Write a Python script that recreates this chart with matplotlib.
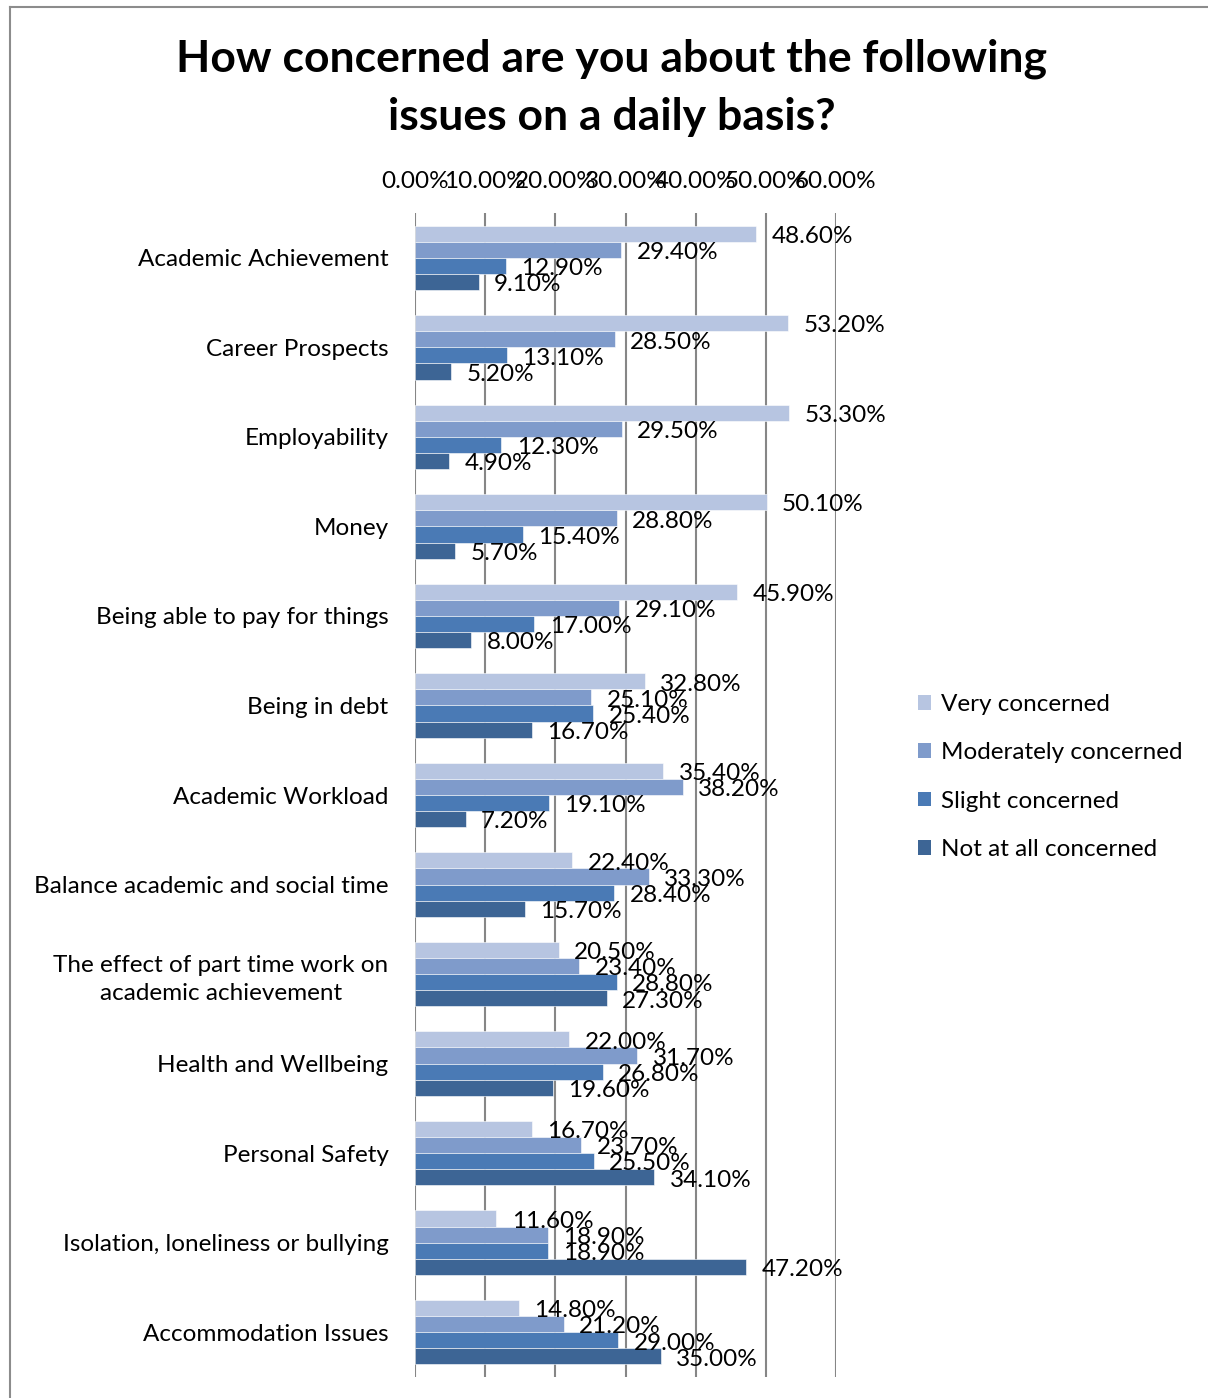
import matplotlib
matplotlib.use('Agg')
import numpy as np
import matplotlib.pyplot as plt
from matplotlib.patches import Patch
from matplotlib.lines import Line2D

plt.rcParams['font.family'] = ['Lato', 'DejaVu Sans']

# survey categories, top to bottom
categories = ['Academic Achievement', 'Career Prospects', 'Employability', 'Money',
              'Being able to pay for things', 'Being in debt', 'Academic Workload',
              'Balance academic and social time',
              'The effect of part time work on\nacademic achievement',
              'Health and Wellbeing', 'Personal Safety',
              'Isolation, loneliness or bullying', 'Accommodation Issues']

# percentages per response
very = [48.6, 53.2, 53.3, 50.1, 45.9, 32.8, 35.4, 22.4, 20.5, 22.0, 16.7, 11.6, 14.8]
moderately = [29.4, 28.5, 29.5, 28.8, 29.1, 25.1, 38.2, 33.3, 23.4, 31.7, 23.7, 18.9, 21.2]
slight = [12.9, 13.1, 12.3, 15.4, 17.0, 25.4, 19.1, 28.4, 28.8, 26.8, 25.5, 18.9, 29.0]
not_at_all = [9.1, 5.2, 4.9, 5.7, 8.0, 16.7, 7.2, 15.7, 27.3, 19.6, 34.1, 47.2, 35.0]

series_names = ['Very concerned', 'Moderately concerned', 'Slight concerned', 'Not at all concerned']
colors = ['#b7c5e1', '#7f9bcb', '#4a7ab5', '#3d6595']

fs = 17.5

fig = plt.figure(figsize=(12.08, 13.98), dpi=100)
ax = fig.add_axes([415/1208, 1 - 1377/1398, 421/1208, 1164/1398])

# chart border
fig.add_artist(Line2D([10/1208, 10/1208], [0, 1 - 7/1398], color='#8c8c8c', lw=1.5))
fig.add_artist(Line2D([10/1208, 1], [1 - 7/1398, 1 - 7/1398], color='#8c8c8c', lw=1.5))

y = np.arange(len(categories))
h = 0.18
for k, (vals, col) in enumerate(zip([very, moderately, slight, not_at_all], colors)):
    pos = y - 1.5*h + k*h
    ax.barh(pos, vals, height=h, color=col, edgecolor='white', linewidth=0.4, zorder=2)
    for p, v in zip(pos, vals):
        ax.annotate('%.2f%%' % v, (v, p), xytext=(11, -2), textcoords='offset points',
                    ha='left', va='center', fontsize=fs, zorder=3)

ax.set_xlim(0, 60)
ax.set_ylim(len(categories) - 0.5, -0.5)
ax.set_xticks(np.arange(0, 61, 10))
ax.set_xticklabels(['%.2f%%' % t for t in np.arange(0, 61, 10)], fontsize=fs)
ax.xaxis.tick_top()
ax.tick_params(axis='x', length=0, pad=15)
ax.set_yticks(y)
ax.set_yticklabels(categories, fontsize=fs, multialignment='center', linespacing=1.4)
ax.tick_params(axis='y', length=0, pad=19)
ax.grid(axis='x', color='#868686', lw=1.5, zorder=1)
for s in ax.spines.values():
    s.set_visible(False)

fig.text(612/1208, 1 - 88/1398, 'How concerned are you about the following\nissues on a daily basis?',
         ha='center', va='center', fontsize=32, fontweight='bold', linespacing=1.55)

handles = [Patch(facecolor=c, edgecolor='none') for c in colors]
fig.legend(handles, series_names, loc='center left', bbox_to_anchor=(918/1208, 1 - 777/1398),
           frameon=False, fontsize=fs, handlelength=0.55, handleheight=0.55,
           handletextpad=0.4, labelspacing=1.13, borderpad=0, borderaxespad=0)

fig.savefig('out.png', dpi=100)
